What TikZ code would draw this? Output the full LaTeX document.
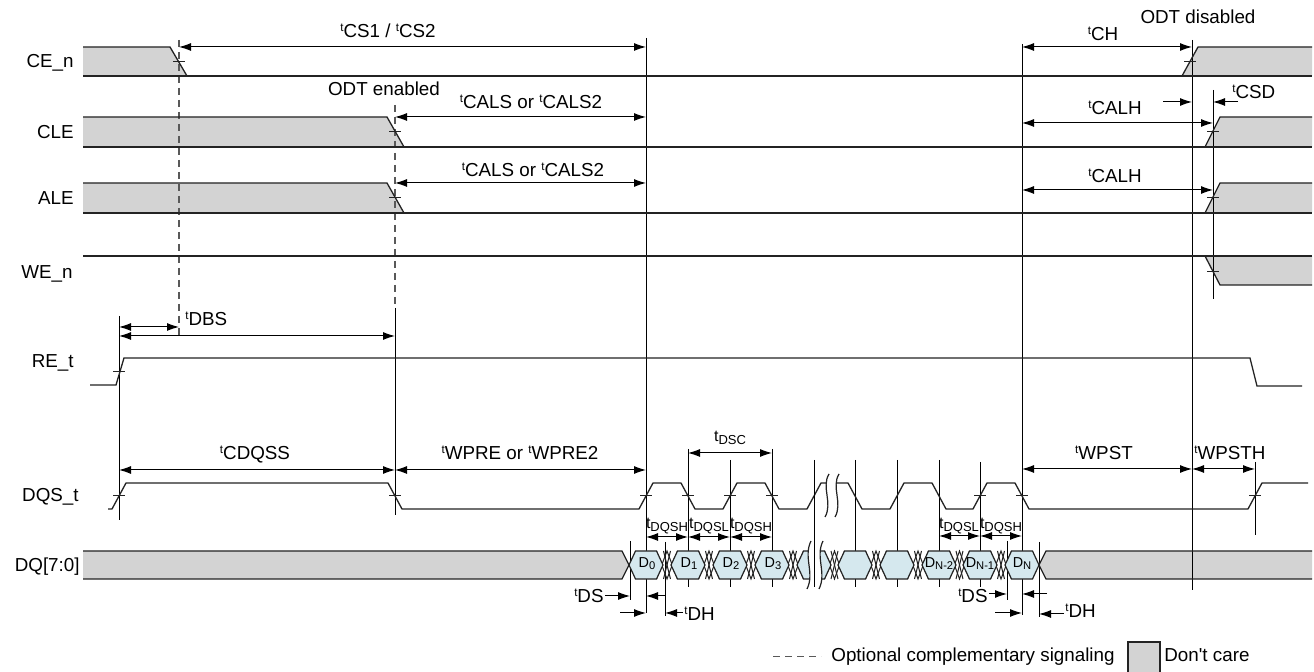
\documentclass[tikz,border=0pt]{standalone}
\usepackage{fontspec}
\setmainfont{Liberation Sans}
\usetikzlibrary{arrows.meta}
\definecolor{dcgray}{RGB}{211,211,211}
\definecolor{hexblue}{RGB}{213,232,238}
\definecolor{sig}{RGB}{35,35,35}
\newcommand{\Tt}{\raisebox{3.0pt}{\fontsize{5.8}{6}\selectfont t}}
\newcommand{\Tsb}[1]{{\fontsize{8}{9}\selectfont t}{\fontsize{6.5}{7}\selectfont\raisebox{-1.5pt}{#1}}}
\newcommand{\Dsb}[1]{{\fontsize{7.2}{8}\selectfont D}{\fontsize{5.6}{6}\selectfont\raisebox{-1pt}{#1}}}
\begin{document}
\begin{tikzpicture}[x=0.5pt,y=-0.5pt,
  sigline/.style={draw=sig,line width=0.65pt,line join=miter},
  tline/.style={draw=black,line width=0.5pt},
  dashline/.style={draw=black!65,line width=0.6pt,dash pattern=on 3.5pt off 2.5pt},
  dimarrow/.style={line width=0.5pt,{Latex[length=6pt,width=4pt]}-{Latex[length=6pt,width=4pt]}},
  rarrow/.style={line width=0.5pt,-{Latex[length=6pt,width=4pt]}},
  lab/.style={inner sep=0pt,font=\fontsize{9.4}{11}\selectfont},
  crosstick/.style={draw=sig,line width=0.5pt},
  hexstyle/.style={fill=hexblue,draw=sig,line width=0.6pt,line join=miter}
]
\fill[white] (0,0) rectangle (1314,672);
\useasboundingbox (0,0) rectangle (1314,672);

% don't care fills
\fill[dcgray] (83,47) -- (170,47) -- (187,76) -- (83,76) -- cycle;
\fill[dcgray] (1182,76) -- (1198,47) -- (1312,47) -- (1312,76) -- cycle;
\fill[dcgray] (83,117) -- (387,117) -- (404,147) -- (83,147) -- cycle;
\fill[dcgray] (1205,147) -- (1220,117) -- (1312,117) -- (1312,147) -- cycle;
\fill[dcgray] (83,183) -- (387,183) -- (404,213) -- (83,213) -- cycle;
\fill[dcgray] (1205,213) -- (1220,183) -- (1312,183) -- (1312,213) -- cycle;
\fill[dcgray] (1205,256) -- (1312,256) -- (1312,285) -- (1220,285) -- cycle;
\fill[dcgray] (83,551) -- (622,551) -- (629,565) -- (622,579) -- (83,579) -- cycle;
\fill[dcgray] (1039,565) -- (1046,551) -- (1312,551) -- (1312,579) -- (1046,579) -- cycle;

% timing reference lines
\draw[tline] (646,38) -- (646,613);
\draw[tline] (1022,44) -- (1022,615);
\draw[tline] (1192,40) -- (1192,590);
\draw[tline] (1213,90) -- (1213,299);
\draw[tline] (119,316) -- (119,520);
\draw[dashline] (179,40) -- (179,336);
\draw[dashline] (395,105) -- (395,308);
\draw[tline] (395,308) -- (395,515);
\draw[tline] (1255,462) -- (1255,535);
\draw[tline] (688,449) -- (688,587);
\draw[tline] (730,460) -- (730,587);
\draw[tline] (772,449) -- (772,587);
\foreach \c in {855,897,939} {\draw[tline] (\c,460) -- (\c,587);}
\draw[tline] (980,462) -- (980,587);
\draw[tline] (630,541) -- (630,600);
\draw[tline] (665,542) -- (665,616);
\draw[tline] (1007,541) -- (1007,600);
\draw[tline] (1039,542) -- (1039,617);

% signal lines
\draw[sigline] (83,47) -- (170,47) -- (187,76);
\draw[sigline] (83,76) -- (1312,76);
\draw[sigline] (1182,76) -- (1198,47) -- (1312,47);
\draw[sigline] (83,117) -- (387,117) -- (404,147);
\draw[sigline] (83,147) -- (1312,147);
\draw[sigline] (1205,147) -- (1220,117) -- (1312,117);
\draw[sigline] (83,183) -- (387,183) -- (404,213);
\draw[sigline] (83,213) -- (1312,213);
\draw[sigline] (1205,213) -- (1220,183) -- (1312,183);
\draw[sigline] (83,256) -- (1312,256);
\draw[sigline] (1205,256) -- (1220,285) -- (1312,285);
\draw[sigline] (90,385) -- (116,385) -- (124,358) -- (1250,358) -- (1257,386) -- (1302,386);
\draw[sigline] (108,509) -- (112,509) -- (126,483) -- (388,483) -- (402,509) -- (639,509) -- (653,483)
  -- (681,483) -- (695,509) -- (723,509) -- (737,483) -- (765,483) -- (779,509) -- (807,509) -- (821,483)
  -- (848,483) -- (862,509) -- (890,509) -- (904,483) -- (932,483) -- (946,509) -- (973,509) -- (987,483)
  -- (1015,483) -- (1029,509) -- (1248,509) -- (1262,483) -- (1308,483);
\draw[sigline] (83,551) -- (622,551) -- (629,565) -- (622,579) -- (83,579);
\draw[sigline] (1312,551) -- (1046,551) -- (1039,565) -- (1046,579) -- (1312,579);

% data transitions
\foreach \a/\b in {646/688,688/730,730/772,772/814,814/855,855/897,897/939,939/980,980/1022} {
  \draw[sigline,line width=0.5pt] (\a+10.5,551) -- ({(\a+\b)/2},579) -- (\b-10.5,551);
  \draw[sigline,line width=0.5pt] (\a+10.5,579) -- ({(\a+\b)/2},551) -- (\b-10.5,579);
  \draw[sigline,line width=0.5pt] ({(\a+\b)/2-3.5},551) -- ({(\a+\b)/2+3.5},579);
  \draw[sigline,line width=0.5pt] ({(\a+\b)/2-3.5},579) -- ({(\a+\b)/2+3.5},551);
}
\foreach \c in {646,688,730,772,814,855,897,939,980,1022} {
  \filldraw[hexstyle] (\c-17,565) -- (\c-10.5,551) -- (\c+10.5,551) -- (\c+17,565) -- (\c+10.5,579) -- (\c-10.5,579) -- cycle;
}

% breaks
\fill[white] (811,541) .. controls (803,557) and (815,573) .. (807,589) -- (819,589) .. controls (827,573) and (815,557) .. (823,541) -- cycle;
\draw[sigline,line width=0.6pt] (811,541) .. controls (803,557) and (815,573) .. (807,589);
\draw[sigline,line width=0.6pt] (823,541) .. controls (815,557) and (827,573) .. (819,589);
\draw[tline] (814,460) -- (814,587);
\fill[white] (829,474) .. controls (821,487) and (833,503) .. (825,517) -- (835,517) .. controls (843,503) and (831,487) .. (839,474) -- cycle;
\draw[sigline,line width=0.6pt] (829,474) .. controls (821,487) and (833,503) .. (825,517);
\draw[sigline,line width=0.6pt] (839,474) .. controls (831,487) and (843,503) .. (835,517);

% crossing ticks
\foreach \x/\y in {179/62,395/132,395/198,1190/62,1213/132,1213/198,1213/272,119/372,119/496,395/496,646/496,688/496,730/496,772/496,980/496,1022/496,1255/496}
  {\draw[crosstick] (\x-6,\y) -- (\x+6,\y);}

% dimension arrows
\draw[dimarrow] (179,47) -- (646,47);
\draw[dimarrow] (395,117) -- (646,117);
\draw[dimarrow] (395,183) -- (646,183);
\draw[dimarrow] (1022,47) -- (1192,47);
\draw[dimarrow] (1022,123) -- (1213,123);
\draw[dimarrow] (1022,190) -- (1213,190);
\draw[rarrow] (1163,102) -- (1192,102);
\draw[rarrow] (1238,102) -- (1213,102);
\draw[dimarrow] (119,327) -- (179,327);
\draw[dimarrow] (119,336) -- (395,336);
\draw[dimarrow] (119,470) -- (395,470);
\draw[dimarrow] (395,470) -- (646,470);
\draw[dimarrow] (1022,469) -- (1192,469);
\draw[dimarrow] (1192,469) -- (1255,469);
\draw[dimarrow] (688,453) -- (772,453);
\draw[dimarrow] (646,537) -- (688,537);
\draw[dimarrow] (688,537) -- (730,537);
\draw[dimarrow] (730,537) -- (772,537);
\draw[dimarrow] (939,536) -- (980,536);
\draw[dimarrow] (980,536) -- (1022,536);
\draw[rarrow] (605,596) -- (630,596);
\draw[rarrow] (665,596) -- (646,596);
\draw[rarrow] (620,613) -- (646,613);
\draw[rarrow] (683,613) -- (665,613);
\draw[rarrow] (989,594) -- (1007,594);
\draw[rarrow] (1047,594) -- (1022,594);
\draw[rarrow] (995,613) -- (1022,613);
\draw[rarrow] (1064,614) -- (1039,614);

% signal names
\node[lab,anchor=base east] (lce) at (74,68) {CE\_n};
\node[lab,anchor=base east] (lcle) at (74,139) {CLE};
\node[lab,anchor=base east] (lale) at (74,205) {ALE};
\node[lab,anchor=base east] (lwe) at (73,279) {WE\_n};
\node[lab,anchor=base east] (lre) at (74,368) {RE\_t};
\node[lab,anchor=base east] (ldqs) at (79,502) {DQS\_t};
\node[lab,anchor=base east] (ldq) at (80,572) {DQ[7:0]};

% timing labels
\node[lab,anchor=base] (tcs) at (388,38) {\Tt CS1 / \Tt CS2};
\node[lab,anchor=base] (odte) at (384,96) {ODT enabled};
\node[lab,anchor=base] (cals1) at (531,109) {\Tt CALS or \Tt CALS2};
\node[lab,anchor=base] (cals2) at (533,177) {\Tt CALS or \Tt CALS2};
\node[lab,anchor=base] (tch) at (1103,41) {\Tt CH};
\node[lab,anchor=base] (odtd) at (1198,24) {ODT disabled};
\node[lab,anchor=base] (calh1) at (1115,115) {\Tt CALH};
\node[lab,anchor=base] (calh2) at (1115,183) {\Tt CALH};
\node[lab,anchor=base west] (csd) at (1232,99) {\Tt CSD};
\node[lab,anchor=base west] (dbs) at (185,326) {\Tt DBS};
\node[lab,anchor=base] (cdqss) at (255,460) {\Tt CDQSS};
\node[lab,anchor=base] (wpre) at (520,460) {\Tt WPRE or \Tt WPRE2};
\node[lab,anchor=base] (wpst) at (1104,460) {\Tt WPST};
\node[lab,anchor=base west] (wpsth) at (1194,460) {\Tt WPSTH};
\node[lab,anchor=base] (dsc) at (730,442) {\Tsb{DSC}};
\node[lab,anchor=base] (dqsh1) at (667,529) {\Tsb{DQSH}};
\node[lab,anchor=base] (dqsl1) at (709,529) {\Tsb{DQSL}};
\node[lab,anchor=base] (dqsh2) at (751,529) {\Tsb{DQSH}};
\node[lab,anchor=base] (dqsl2) at (959,529) {\Tsb{DQSL}};
\node[lab,anchor=base] (dqsh3) at (1001,529) {\Tsb{DQSH}};
\node[lab,anchor=base east] (ds1) at (604,603) {\Tt DS};
\node[lab,anchor=base west] (dh1) at (684,621) {\Tt DH};
\node[lab,anchor=base east] (ds2) at (988,603) {\Tt DS};
\node[lab,anchor=base west] (dh2) at (1065,618) {\Tt DH};

% data labels
\node[inner sep=0pt,anchor=base] (d0) at (647,568) {\Dsb{0}};
\node[inner sep=0pt,anchor=base] (d1) at (689,568) {\Dsb{1}};
\node[inner sep=0pt,anchor=base] (d2) at (731,568) {\Dsb{2}};
\node[inner sep=0pt,anchor=base] (d3) at (773,568) {\Dsb{3}};
\node[inner sep=0pt,anchor=base] (dn2) at (939,568) {\Dsb{N-2}};
\node[inner sep=0pt,anchor=base] (dn1) at (980,568) {\Dsb{N-1}};
\node[inner sep=0pt,anchor=base] (dn) at (1022,568) {\Dsb{N}};

% legend
\node[lab,anchor=base east] (leg1) at (1115,662) {Optional complementary signaling};
\draw[dashline] ([xshift=-29pt,yshift=2.8pt]leg1.base west) -- ([xshift=-5pt,yshift=2.8pt]leg1.base west);
\filldraw[fill=dcgray,draw=sig,line width=0.6pt] (1128,642) rectangle (1160,680);
\node[lab,anchor=base west] (leg2) at (1164,662) {Don\textquotesingle t care};
\end{tikzpicture}
\end{document}
